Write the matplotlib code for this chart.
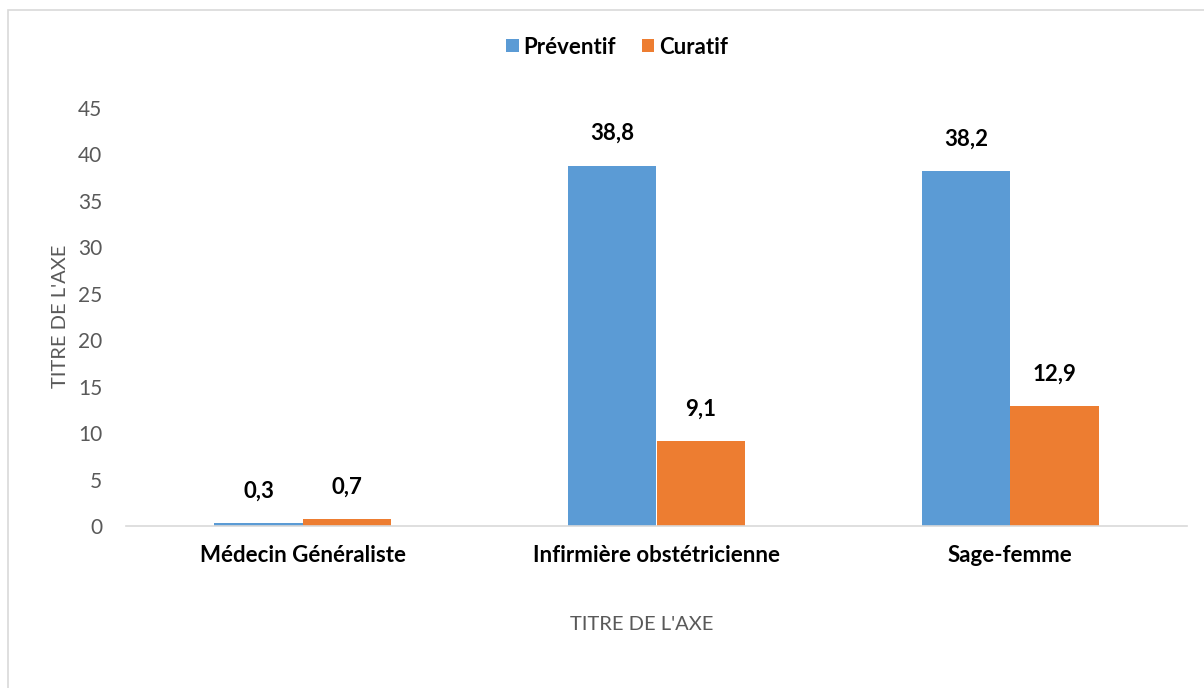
import matplotlib.pyplot as plt
import numpy as np
from matplotlib.patches import Rectangle

categories = ['Médecin Généraliste', 'Infirmière obstétricienne', 'Sage-femme']
preventif = [0.3, 38.8, 38.2]
curatif = [0.7, 9.1, 12.9]
labels_prev = ['0,3', '38,8', '38,2']
labels_cur = ['0,7', '9,1', '12,9']

plt.rcParams['font.family'] = ['Lato', 'DejaVu Sans']
gris = '#595959'

fig = plt.figure(figsize=(12.04, 6.88), dpi=100)
ax = fig.add_axes([126 / 1204, 1 - 526 / 688, (1187 - 126) / 1204, (526 - 108) / 688])

x = np.arange(len(categories))
w = 0.25
b1 = ax.bar(x - w / 2, preventif, w, color='#5B9BD5', label='Préventif')
b2 = ax.bar(x + w / 2, curatif, w, color='#ED7D31', label='Curatif')

for i in range(len(categories)):
    ax.annotate(labels_prev[i], xy=(x[i] - w / 2, preventif[i]), xytext=(0, 23),
                textcoords='offset points', ha='center', va='center',
                fontsize=16, fontweight='bold', color='black')
    ax.annotate(labels_cur[i], xy=(x[i] + w / 2, curatif[i]), xytext=(0, 23),
                textcoords='offset points', ha='center', va='center',
                fontsize=16, fontweight='bold', color='black')

ax.set_xlim(-0.5, len(categories) - 0.5)
ax.set_ylim(0, 45)
ax.set_yticks(range(0, 46, 5))
ax.set_xticks(x)
ax.set_xticklabels(categories, fontsize=16, fontweight='bold', color='black')
ax.tick_params(axis='y', labelsize=15, labelcolor=gris, length=0, pad=17)
ax.tick_params(axis='x', length=0, pad=14)
for s in ['top', 'right', 'left']:
    ax.spines[s].set_visible(False)
ax.spines['bottom'].set_color('#D9D9D9')
ax.spines['bottom'].set_linewidth(1.2)

fig.text(642 / 1204, 1 - 624 / 688, "TITRE DE L'AXE", ha='center', va='center', fontsize=14.5, color=gris)
fig.text(60 / 1204, 1 - 316 / 688, "TITRE DE L'AXE", ha='center', va='center', rotation=90,
         fontsize=14.5, color=gris)

fig.legend(handles=[b1, b2], loc='center', bbox_to_anchor=(617 / 1204, 1 - 47 / 688), ncol=2,
           frameon=False, prop={'weight': 'bold', 'size': 16}, handlelength=0.55, handleheight=0.55,
           handletextpad=0.2, columnspacing=1.2)

# cadre du graphique
fig.patches.append(Rectangle((8 / 1204, -0.1), 1.2, 1 - 10 / 688 + 0.1, transform=fig.transFigure,
                             fill=False, edgecolor='#D9D9D9', linewidth=1.2))

fig.savefig('out.png', dpi=100)
